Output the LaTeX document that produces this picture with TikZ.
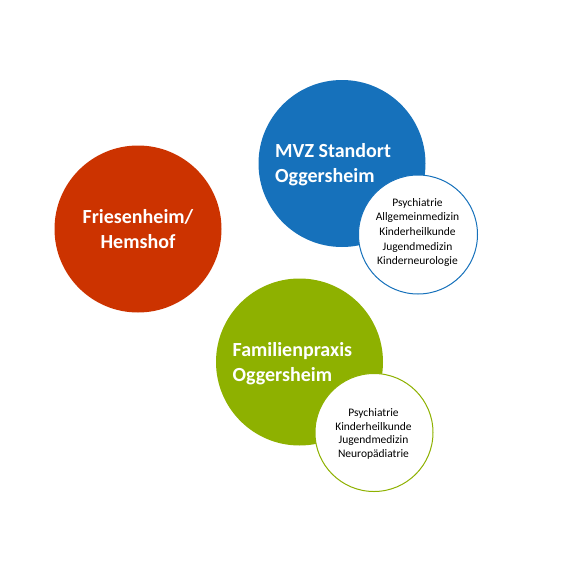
\documentclass[tikz,border=0pt]{standalone}
\usepackage{fontspec}
\setmainfont{Carlito}
\definecolor{cred}{RGB}{204,51,0}
\definecolor{cblue}{RGB}{22,113,187}
\definecolor{cgreen}{RGB}{142,177,0}
\tikzset{
  bigc/.style={circle, inner sep=0pt, minimum size=167pt, text=white,
    font=\bfseries\fontsize{20}{25}\selectfont, align=center},
  smallc/.style={circle, fill=white, line width=1pt, inner sep=0pt,
    font=\fontsize{11.5}{14.5}\selectfont, align=center},
  bigtext/.style={inner sep=0pt, text=white, align=left,
    font=\bfseries\fontsize{20}{25}\selectfont}
}
\begin{document}
\begin{tikzpicture}[x=1pt,y=-1pt]
\useasboundingbox (0,0) rectangle (573,573);
\node[bigc, fill=cred] (fr) at (138,229) {Friesenheim/\\Hemshof};
\node[bigc, fill=cblue] (mvz) at (342,163.5) {};
\node[bigtext, anchor=west] (mvzt) at (275,164.5) {MVZ Standort\\Oggersheim};
\node[smallc, draw=cblue, minimum size=119pt] (mvzs) at (418,234.5) {};
\node[font=\fontsize{11.5}{14.7}\selectfont, align=center, inner sep=0pt] (mvzl) at (417.5,232.5) {Psychiatrie\\Allgemeinmedizin\\Kinderheilkunde\\Jugendmedizin\\Kinderneurologie};
\node[bigc, fill=cgreen] (fam) at (299.5,362) {};
\node[bigtext, anchor=west] (famt) at (232.5,363.5) {Familienpraxis\\Oggersheim};
\node[smallc, draw=cgreen, minimum size=118pt] (fams) at (374,432.5) {};
\node[font=\fontsize{11.5}{13.7}\selectfont, align=center, inner sep=0pt] (faml) at (373.5,434) {Psychiatrie\\Kinderheilkunde\\Jugendmedizin\\Neuropädiatrie};
\end{tikzpicture}
\end{document}
